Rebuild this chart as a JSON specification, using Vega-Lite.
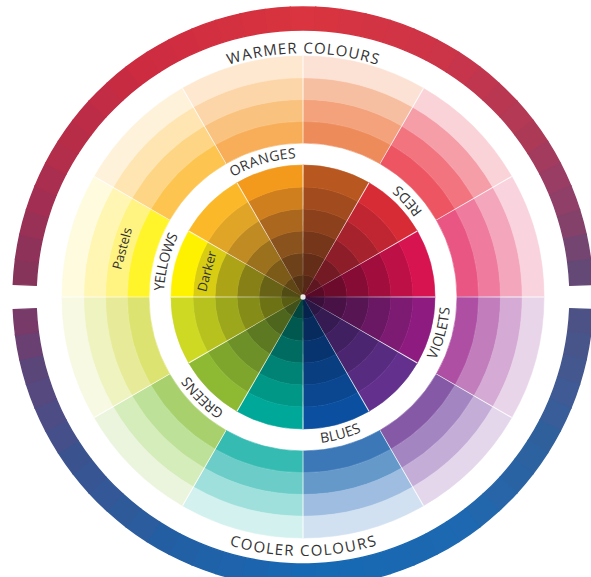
{
"$schema":"https://vega.github.io/schema/vega-lite/v6.json",
"width":576,"height":560,
"autosize":"none",
"padding":{"left":15,"top":17,"right":0,"bottom":0},
"background":"white",
"config":{"view":{"stroke":null}},
"datasets":{
"ring":[
{"a0":-87.5,"a1":-82.5},{"a0":-82.5,"a1":-77.5},{"a0":-77.5,"a1":-72.5},{"a0":-72.5,"a1":-67.5},{"a0":-67.5,"a1":-62.5},{"a0":-62.5,"a1":-57.5},{"a0":-57.5,"a1":-52.5},{"a0":-52.5,"a1":-47.5},{"a0":-47.5,"a1":-42.5},{"a0":-42.5,"a1":-37.5},{"a0":-37.5,"a1":-32.5},{"a0":-32.5,"a1":-27.5},{"a0":-27.5,"a1":-22.5},{"a0":-22.5,"a1":-17.5},{"a0":-17.5,"a1":-12.5},{"a0":-12.5,"a1":-7.5},{"a0":-7.5,"a1":-2.5},{"a0":-2.5,"a1":2.5},{"a0":2.5,"a1":7.5},{"a0":7.5,"a1":12.5},{"a0":12.5,"a1":17.5},{"a0":17.5,"a1":22.5},{"a0":22.5,"a1":27.5},{"a0":27.5,"a1":32.5},{"a0":32.5,"a1":37.5},{"a0":37.5,"a1":42.5},{"a0":42.5,"a1":47.5},{"a0":47.5,"a1":52.5},{"a0":52.5,"a1":57.5},{"a0":57.5,"a1":62.5},{"a0":62.5,"a1":67.5},{"a0":67.5,"a1":72.5},{"a0":72.5,"a1":77.5},{"a0":77.5,"a1":82.5},{"a0":82.5,"a1":87.5},
{"a0":92.5,"a1":97.5},{"a0":97.5,"a1":102.5},{"a0":102.5,"a1":107.5},{"a0":107.5,"a1":112.5},{"a0":112.5,"a1":117.5},{"a0":117.5,"a1":122.5},{"a0":122.5,"a1":127.5},{"a0":127.5,"a1":132.5},{"a0":132.5,"a1":137.5},{"a0":137.5,"a1":142.5},{"a0":142.5,"a1":147.5},{"a0":147.5,"a1":152.5},{"a0":152.5,"a1":157.5},{"a0":157.5,"a1":162.5},{"a0":162.5,"a1":167.5},{"a0":167.5,"a1":172.5},{"a0":172.5,"a1":177.5},{"a0":177.5,"a1":182.5},{"a0":182.5,"a1":187.5},{"a0":187.5,"a1":192.5},{"a0":192.5,"a1":197.5},{"a0":197.5,"a1":202.5},{"a0":202.5,"a1":207.5},{"a0":207.5,"a1":212.5},{"a0":212.5,"a1":217.5},{"a0":217.5,"a1":222.5},{"a0":222.5,"a1":227.5},{"a0":227.5,"a1":232.5},{"a0":232.5,"a1":237.5},{"a0":237.5,"a1":242.5},{"a0":242.5,"a1":247.5},{"a0":247.5,"a1":252.5},{"a0":252.5,"a1":257.5},{"a0":257.5,"a1":262.5},{"a0":262.5,"a1":267.5}
],
"cells":[
{"a0":0,"a1":30,"r0":0,"r1":1,"k":"0-0"},{"a0":0,"a1":30,"r0":1,"r1":2,"k":"0-1"},{"a0":0,"a1":30,"r0":2,"r1":3,"k":"0-2"},{"a0":0,"a1":30,"r0":3,"r1":4,"k":"0-3"},{"a0":0,"a1":30,"r0":4,"r1":5,"k":"0-4"},{"a0":0,"a1":30,"r0":5,"r1":6,"k":"0-5"},{"a0":0,"a1":30,"r0":7,"r1":8,"k":"0-7"},{"a0":0,"a1":30,"r0":8,"r1":9,"k":"0-8"},{"a0":0,"a1":30,"r0":9,"r1":10,"k":"0-9"},{"a0":0,"a1":30,"r0":10,"r1":11,"k":"0-10"},
{"a0":30,"a1":60,"r0":0,"r1":1,"k":"1-0"},{"a0":30,"a1":60,"r0":1,"r1":2,"k":"1-1"},{"a0":30,"a1":60,"r0":2,"r1":3,"k":"1-2"},{"a0":30,"a1":60,"r0":3,"r1":4,"k":"1-3"},{"a0":30,"a1":60,"r0":4,"r1":5,"k":"1-4"},{"a0":30,"a1":60,"r0":5,"r1":6,"k":"1-5"},{"a0":30,"a1":60,"r0":7,"r1":8,"k":"1-7"},{"a0":30,"a1":60,"r0":8,"r1":9,"k":"1-8"},{"a0":30,"a1":60,"r0":9,"r1":10,"k":"1-9"},{"a0":30,"a1":60,"r0":10,"r1":11,"k":"1-10"},
{"a0":60,"a1":90,"r0":0,"r1":1,"k":"2-0"},{"a0":60,"a1":90,"r0":1,"r1":2,"k":"2-1"},{"a0":60,"a1":90,"r0":2,"r1":3,"k":"2-2"},{"a0":60,"a1":90,"r0":3,"r1":4,"k":"2-3"},{"a0":60,"a1":90,"r0":4,"r1":5,"k":"2-4"},{"a0":60,"a1":90,"r0":5,"r1":6,"k":"2-5"},{"a0":60,"a1":90,"r0":7,"r1":8,"k":"2-7"},{"a0":60,"a1":90,"r0":8,"r1":9,"k":"2-8"},{"a0":60,"a1":90,"r0":9,"r1":10,"k":"2-9"},{"a0":60,"a1":90,"r0":10,"r1":11,"k":"2-10"},
{"a0":90,"a1":120,"r0":0,"r1":1,"k":"3-0"},{"a0":90,"a1":120,"r0":1,"r1":2,"k":"3-1"},{"a0":90,"a1":120,"r0":2,"r1":3,"k":"3-2"},{"a0":90,"a1":120,"r0":3,"r1":4,"k":"3-3"},{"a0":90,"a1":120,"r0":4,"r1":5,"k":"3-4"},{"a0":90,"a1":120,"r0":5,"r1":6,"k":"3-5"},{"a0":90,"a1":120,"r0":7,"r1":8,"k":"3-7"},{"a0":90,"a1":120,"r0":8,"r1":9,"k":"3-8"},{"a0":90,"a1":120,"r0":9,"r1":10,"k":"3-9"},{"a0":90,"a1":120,"r0":10,"r1":11,"k":"3-10"},
{"a0":120,"a1":150,"r0":0,"r1":1,"k":"4-0"},{"a0":120,"a1":150,"r0":1,"r1":2,"k":"4-1"},{"a0":120,"a1":150,"r0":2,"r1":3,"k":"4-2"},{"a0":120,"a1":150,"r0":3,"r1":4,"k":"4-3"},{"a0":120,"a1":150,"r0":4,"r1":5,"k":"4-4"},{"a0":120,"a1":150,"r0":5,"r1":6,"k":"4-5"},{"a0":120,"a1":150,"r0":7,"r1":8,"k":"4-7"},{"a0":120,"a1":150,"r0":8,"r1":9,"k":"4-8"},{"a0":120,"a1":150,"r0":9,"r1":10,"k":"4-9"},{"a0":120,"a1":150,"r0":10,"r1":11,"k":"4-10"},
{"a0":150,"a1":180,"r0":0,"r1":1,"k":"5-0"},{"a0":150,"a1":180,"r0":1,"r1":2,"k":"5-1"},{"a0":150,"a1":180,"r0":2,"r1":3,"k":"5-2"},{"a0":150,"a1":180,"r0":3,"r1":4,"k":"5-3"},{"a0":150,"a1":180,"r0":4,"r1":5,"k":"5-4"},{"a0":150,"a1":180,"r0":5,"r1":6,"k":"5-5"},{"a0":150,"a1":180,"r0":7,"r1":8,"k":"5-7"},{"a0":150,"a1":180,"r0":8,"r1":9,"k":"5-8"},{"a0":150,"a1":180,"r0":9,"r1":10,"k":"5-9"},{"a0":150,"a1":180,"r0":10,"r1":11,"k":"5-10"},
{"a0":180,"a1":210,"r0":0,"r1":1,"k":"6-0"},{"a0":180,"a1":210,"r0":1,"r1":2,"k":"6-1"},{"a0":180,"a1":210,"r0":2,"r1":3,"k":"6-2"},{"a0":180,"a1":210,"r0":3,"r1":4,"k":"6-3"},{"a0":180,"a1":210,"r0":4,"r1":5,"k":"6-4"},{"a0":180,"a1":210,"r0":5,"r1":6,"k":"6-5"},{"a0":180,"a1":210,"r0":7,"r1":8,"k":"6-7"},{"a0":180,"a1":210,"r0":8,"r1":9,"k":"6-8"},{"a0":180,"a1":210,"r0":9,"r1":10,"k":"6-9"},{"a0":180,"a1":210,"r0":10,"r1":11,"k":"6-10"},
{"a0":210,"a1":240,"r0":0,"r1":1,"k":"7-0"},{"a0":210,"a1":240,"r0":1,"r1":2,"k":"7-1"},{"a0":210,"a1":240,"r0":2,"r1":3,"k":"7-2"},{"a0":210,"a1":240,"r0":3,"r1":4,"k":"7-3"},{"a0":210,"a1":240,"r0":4,"r1":5,"k":"7-4"},{"a0":210,"a1":240,"r0":5,"r1":6,"k":"7-5"},{"a0":210,"a1":240,"r0":7,"r1":8,"k":"7-7"},{"a0":210,"a1":240,"r0":8,"r1":9,"k":"7-8"},{"a0":210,"a1":240,"r0":9,"r1":10,"k":"7-9"},{"a0":210,"a1":240,"r0":10,"r1":11,"k":"7-10"},
{"a0":240,"a1":270,"r0":0,"r1":1,"k":"8-0"},{"a0":240,"a1":270,"r0":1,"r1":2,"k":"8-1"},{"a0":240,"a1":270,"r0":2,"r1":3,"k":"8-2"},{"a0":240,"a1":270,"r0":3,"r1":4,"k":"8-3"},{"a0":240,"a1":270,"r0":4,"r1":5,"k":"8-4"},{"a0":240,"a1":270,"r0":5,"r1":6,"k":"8-5"},{"a0":240,"a1":270,"r0":7,"r1":8,"k":"8-7"},{"a0":240,"a1":270,"r0":8,"r1":9,"k":"8-8"},{"a0":240,"a1":270,"r0":9,"r1":10,"k":"8-9"},{"a0":240,"a1":270,"r0":10,"r1":11,"k":"8-10"},
{"a0":270,"a1":300,"r0":0,"r1":1,"k":"9-0"},{"a0":270,"a1":300,"r0":1,"r1":2,"k":"9-1"},{"a0":270,"a1":300,"r0":2,"r1":3,"k":"9-2"},{"a0":270,"a1":300,"r0":3,"r1":4,"k":"9-3"},{"a0":270,"a1":300,"r0":4,"r1":5,"k":"9-4"},{"a0":270,"a1":300,"r0":5,"r1":6,"k":"9-5"},{"a0":270,"a1":300,"r0":7,"r1":8,"k":"9-7"},{"a0":270,"a1":300,"r0":8,"r1":9,"k":"9-8"},{"a0":270,"a1":300,"r0":9,"r1":10,"k":"9-9"},{"a0":270,"a1":300,"r0":10,"r1":11,"k":"9-10"},
{"a0":300,"a1":330,"r0":0,"r1":1,"k":"10-0"},{"a0":300,"a1":330,"r0":1,"r1":2,"k":"10-1"},{"a0":300,"a1":330,"r0":2,"r1":3,"k":"10-2"},{"a0":300,"a1":330,"r0":3,"r1":4,"k":"10-3"},{"a0":300,"a1":330,"r0":4,"r1":5,"k":"10-4"},{"a0":300,"a1":330,"r0":5,"r1":6,"k":"10-5"},{"a0":300,"a1":330,"r0":7,"r1":8,"k":"10-7"},{"a0":300,"a1":330,"r0":8,"r1":9,"k":"10-8"},{"a0":300,"a1":330,"r0":9,"r1":10,"k":"10-9"},{"a0":300,"a1":330,"r0":10,"r1":11,"k":"10-10"},
{"a0":330,"a1":360,"r0":0,"r1":1,"k":"11-0"},{"a0":330,"a1":360,"r0":1,"r1":2,"k":"11-1"},{"a0":330,"a1":360,"r0":2,"r1":3,"k":"11-2"},{"a0":330,"a1":360,"r0":3,"r1":4,"k":"11-3"},{"a0":330,"a1":360,"r0":4,"r1":5,"k":"11-4"},{"a0":330,"a1":360,"r0":5,"r1":6,"k":"11-5"},{"a0":330,"a1":360,"r0":7,"r1":8,"k":"11-7"},{"a0":330,"a1":360,"r0":8,"r1":9,"k":"11-8"},{"a0":330,"a1":360,"r0":9,"r1":10,"k":"11-9"},{"a0":330,"a1":360,"r0":10,"r1":11,"k":"11-10"}
],
"seps":[
{"a0":-0.22,"a1":0.22,"r0":0,"r1":6},{"a0":29.78,"a1":30.22,"r0":0,"r1":6},{"a0":59.78,"a1":60.22,"r0":0,"r1":6},{"a0":89.78,"a1":90.22,"r0":0,"r1":6},{"a0":119.78,"a1":120.22,"r0":0,"r1":6},{"a0":149.78,"a1":150.22,"r0":0,"r1":6},{"a0":179.78,"a1":180.22,"r0":0,"r1":6},{"a0":209.78,"a1":210.22,"r0":0,"r1":6},{"a0":239.78,"a1":240.22,"r0":0,"r1":6},{"a0":269.78,"a1":270.22,"r0":0,"r1":6},{"a0":299.78,"a1":300.22,"r0":0,"r1":6},{"a0":329.78,"a1":330.22,"r0":0,"r1":6},
{"a0":-0.13,"a1":0.13,"r0":7,"r1":11},{"a0":29.87,"a1":30.13,"r0":7,"r1":11},{"a0":59.87,"a1":60.13,"r0":7,"r1":11},{"a0":89.87,"a1":90.13,"r0":7,"r1":11},{"a0":119.87,"a1":120.13,"r0":7,"r1":11},{"a0":149.87,"a1":150.13,"r0":7,"r1":11},{"a0":179.87,"a1":180.13,"r0":7,"r1":11},{"a0":209.87,"a1":210.13,"r0":7,"r1":11},{"a0":239.87,"a1":240.13,"r0":7,"r1":11},{"a0":269.87,"a1":270.13,"r0":7,"r1":11},{"a0":299.87,"a1":300.13,"r0":7,"r1":11},{"a0":329.87,"a1":330.13,"r0":7,"r1":11},
{"a0":0,"a1":360,"r0":0,"r1":0.12}
],
"txt":[
{"ch":"W","a":-16.15,"r":11.3,"g":"big","d":"cw"},{"ch":"A","a":-13.1,"r":11.3,"g":"big","d":"cw"},{"ch":"R","a":-10.56,"r":11.3,"g":"big","d":"cw"},{"ch":"M","a":-7.63,"r":11.3,"g":"big","d":"cw"},{"ch":"E","a":-4.86,"r":11.3,"g":"big","d":"cw"},{"ch":"R","a":-2.56,"r":11.3,"g":"big","d":"cw"},{"ch":"C","a":1.16,"r":11.3,"g":"big","d":"cw"},{"ch":"O","a":3.9,"r":11.3,"g":"big","d":"cw"},{"ch":"L","a":6.4,"r":11.3,"g":"big","d":"cw"},{"ch":"O","a":8.9,"r":11.3,"g":"big","d":"cw"},{"ch":"U","a":11.8,"r":11.3,"g":"big","d":"cw"},{"ch":"R","a":14.45,"r":11.3,"g":"big","d":"cw"},{"ch":"S","a":16.8,"r":11.3,"g":"big","d":"cw"},
{"ch":"C","a":195.51,"r":11.5,"g":"big","d":"ccw"},{"ch":"O","a":192.83,"r":11.5,"g":"big","d":"ccw"},{"ch":"O","a":189.91,"r":11.5,"g":"big","d":"ccw"},{"ch":"L","a":187.47,"r":11.5,"g":"big","d":"ccw"},{"ch":"E","a":185.45,"r":11.5,"g":"big","d":"ccw"},{"ch":"R","a":183.21,"r":11.5,"g":"big","d":"ccw"},{"ch":"C","a":179.62,"r":11.5,"g":"big","d":"ccw"},{"ch":"O","a":176.94,"r":11.5,"g":"big","d":"ccw"},{"ch":"L","a":174.5,"r":11.5,"g":"big","d":"ccw"},{"ch":"O","a":172.06,"r":11.5,"g":"big","d":"ccw"},{"ch":"U","a":169.22,"r":11.5,"g":"big","d":"ccw"},{"ch":"R","a":166.63,"r":11.5,"g":"big","d":"ccw"},{"ch":"S","a":164.35,"r":11.5,"g":"big","d":"ccw"},
{"ch":"O","a":-28.14,"r":6.5,"g":"small","d":"cw"},{"ch":"R","a":-24.01,"r":6.5,"g":"small","d":"cw"},{"ch":"A","a":-20.17,"r":6.5,"g":"small","d":"cw"},{"ch":"N","a":-15.96,"r":6.5,"g":"small","d":"cw"},{"ch":"G","a":-11.54,"r":6.5,"g":"small","d":"cw"},{"ch":"E","a":-7.77,"r":6.5,"g":"small","d":"cw"},{"ch":"S","a":-4.48,"r":6.5,"g":"small","d":"cw"},
{"ch":"G","a":216.63,"r":6.5,"g":"small","d":"cw"},{"ch":"R","a":220.39,"r":6.5,"g":"small","d":"cw"},{"ch":"E","a":223.62,"r":6.5,"g":"small","d":"cw"},{"ch":"E","a":226.58,"r":6.5,"g":"small","d":"cw"},{"ch":"N","a":230.19,"r":6.5,"g":"small","d":"cw"},{"ch":"S","a":233.85,"r":6.5,"g":"small","d":"cw"},
{"ch":"Y","a":274.04,"r":6.5,"g":"small","d":"cw"},{"ch":"E","a":277.05,"r":6.5,"g":"small","d":"cw"},{"ch":"L","a":279.87,"r":6.5,"g":"small","d":"cw"},{"ch":"L","a":282.64,"r":6.5,"g":"small","d":"cw"},{"ch":"O","a":286.1,"r":6.5,"g":"small","d":"cw"},{"ch":"W","a":290.65,"r":6.5,"g":"small","d":"cw"},{"ch":"S","a":294.62,"r":6.5,"g":"small","d":"cw"},
{"ch":"R","a":52.75,"r":6.5,"g":"small","d":"ccw"},{"ch":"E","a":49.32,"r":6.5,"g":"small","d":"ccw"},{"ch":"D","a":45.62,"r":6.5,"g":"small","d":"ccw"},{"ch":"S","a":41.85,"r":6.5,"g":"small","d":"ccw"},
{"ch":"V","a":113.78,"r":6.5,"g":"small","d":"ccw"},{"ch":"I","a":111.19,"r":6.5,"g":"small","d":"ccw"},{"ch":"O","a":108.21,"r":6.5,"g":"small","d":"ccw"},{"ch":"L","a":104.66,"r":6.5,"g":"small","d":"ccw"},{"ch":"E","a":101.75,"r":6.5,"g":"small","d":"ccw"},{"ch":"T","a":98.73,"r":6.5,"g":"small","d":"ccw"},{"ch":"S","a":95.64,"r":6.5,"g":"small","d":"ccw"},
{"ch":"B","a":171.25,"r":6.5,"g":"small","d":"ccw"},{"ch":"L","a":168.03,"r":6.5,"g":"small","d":"ccw"},{"ch":"U","a":164.6,"r":6.5,"g":"small","d":"ccw"},{"ch":"E","a":161.11,"r":6.5,"g":"small","d":"ccw"},{"ch":"S","a":158.09,"r":6.5,"g":"small","d":"ccw"},
{"ch":"Pastels","a":285,"r":8.5,"g":"tiny","d":"cw"},{"ch":"Darker","a":285,"r":4.5,"g":"tiny","d":"cw"}
]
},
"layer":[
{"data":{"name":"ring"},
 "mark":{"type":"arc","strokeWidth":1.4},
 "encoding":{
  "theta":{"field":"a0","type":"quantitative","stack":null,"scale":{"type":"linear","domain":[0,360],"range":[0,6.283185307179586],"nice":false}},
  "theta2":{"field":"a1"},
  "radius":{"datum":12,"type":"quantitative","scale":{"type":"linear","domain":[0,6,7,11,12,13],"range":[0,132,154,241,267,290],"nice":false}},
  "radius2":{"datum":13},
  "color":{"field":"a0","type":"quantitative","legend":null,"scale":{"type":"linear","domain":[-87.5,-62.5,-37.5,-2.5,27.5,52.5,72.5,82.5,92.5,117.5,142.5,177.5,207.5,232.5,252.5,262.5],"range":["#86345a","#b22e4a","#cc2b40","#d9343f","#cc3447","#ac3a57","#84416a","#644876","#4c5286","#30609c","#1d68b0","#1569b4","#245ea2","#3a538f","#5a4679","#773a69"]}},
  "stroke":{"field":"a0","type":"quantitative","legend":null,"scale":{"type":"linear","domain":[-87.5,-62.5,-37.5,-2.5,27.5,52.5,72.5,82.5,92.5,117.5,142.5,177.5,207.5,232.5,252.5,262.5],"range":["#86345a","#b22e4a","#cc2b40","#d9343f","#cc3447","#ac3a57","#84416a","#644876","#4c5286","#30609c","#1d68b0","#1569b4","#245ea2","#3a538f","#5a4679","#773a69"]}}
 }},
{"data":{"name":"cells"},
 "mark":{"type":"arc","strokeWidth":0.6},
 "encoding":{
  "theta":{"field":"a0","type":"quantitative","stack":null,"scale":{"type":"linear","domain":[0,360],"range":[0,6.283185307179586],"nice":false}},
  "theta2":{"field":"a1"},
  "radius":{"field":"r0","type":"quantitative","scale":{"type":"linear","domain":[0,6,7,11,12,13],"range":[0,132,154,241,267,290],"nice":false}},
  "radius2":{"field":"r1"},
  "color":{"field":"k","type":"nominal","legend":null,"scale":{
   "domain":["0-0","0-1","0-2","0-3","0-4","0-5","0-7","0-8","0-9","0-10","1-0","1-1","1-2","1-3","1-4","1-5","1-7","1-8","1-9","1-10","2-0","2-1","2-2","2-3","2-4","2-5","2-7","2-8","2-9","2-10","3-0","3-1","3-2","3-3","3-4","3-5","3-7","3-8","3-9","3-10","4-0","4-1","4-2","4-3","4-4","4-5","4-7","4-8","4-9","4-10","5-0","5-1","5-2","5-3","5-4","5-5","5-7","5-8","5-9","5-10","6-0","6-1","6-2","6-3","6-4","6-5","6-7","6-8","6-9","6-10","7-0","7-1","7-2","7-3","7-4","7-5","7-7","7-8","7-9","7-10","8-0","8-1","8-2","8-3","8-4","8-5","8-7","8-8","8-9","8-10","9-0","9-1","9-2","9-3","9-4","9-5","9-7","9-8","9-9","9-10","10-0","10-1","10-2","10-3","10-4","10-5","10-7","10-8","10-9","10-10","11-0","11-1","11-2","11-3","11-4","11-5","11-7","11-8","11-9","11-10"],
   "range":["#552716","#632d18","#76361a","#8c401c","#a24b1e","#b8571f","#ee8b5a","#f3a27c","#f7bfa2","#fce2d5",
   "#5e1620","#741a24","#8d1e29","#a6222d","#c02631","#d72b35","#ed5562","#f1747f","#f59ea7","#fad3d8",
   "#580a27","#6d0b2d","#860c35","#a10e3d","#bd1046","#d71350","#ea5683","#ef7c9e","#f4a6bc","#f9d3dd",
   "#3a0f3a","#481246","#581554","#6a1863","#7d1a72","#8e1c80","#ae4fa4","#c17dbc","#d5aad4","#e9d5ea",
   "#2b1644","#351b51","#402060","#4b256f","#572b7f","#63308d","#8659a7","#a385c1","#c4aed8","#e4d7ec",
   "#05234c","#062b5c","#07346e","#093e80","#0a4790","#0b50a0","#3c78b8","#6599ca","#9ebde0","#d1e1f1",
   "#034640","#00584f","#006c61","#008274","#009787","#00a899","#35bbb2","#6ccdc8","#a0e0dc","#d3f1ef",
   "#405219","#4e651e","#5d7a23","#6d9028","#7ea62d","#8dba32","#a8d06c","#bde198","#d5ecbb","#ebf5dd",
   "#585d13","#6d7315","#858d18","#9da71b","#b7c21f","#cdd922","#dde370","#e7eb99","#eff3c0","#f7f9e3",
   "#504c13","#676215","#878017","#aca416","#d8cd12","#fff200","#fff52a","#fff382","#fff6b4","#fefbdf",
   "#604614","#7c5a18","#9c711d","#bf8b22","#e0a426","#fbb829","#fdc54f","#fdd585","#fee5b2","#fff2db",
   "#553415","#6d4119","#8a521c","#ab671e","#cf7f1d","#f39a1c","#f8ae58","#fac27f","#fcd6a8","#fee8cf"]}},
  "stroke":{"field":"k","type":"nominal","legend":null,"scale":{
   "domain":["0-0","0-1","0-2","0-3","0-4","0-5","0-7","0-8","0-9","0-10","1-0","1-1","1-2","1-3","1-4","1-5","1-7","1-8","1-9","1-10","2-0","2-1","2-2","2-3","2-4","2-5","2-7","2-8","2-9","2-10","3-0","3-1","3-2","3-3","3-4","3-5","3-7","3-8","3-9","3-10","4-0","4-1","4-2","4-3","4-4","4-5","4-7","4-8","4-9","4-10","5-0","5-1","5-2","5-3","5-4","5-5","5-7","5-8","5-9","5-10","6-0","6-1","6-2","6-3","6-4","6-5","6-7","6-8","6-9","6-10","7-0","7-1","7-2","7-3","7-4","7-5","7-7","7-8","7-9","7-10","8-0","8-1","8-2","8-3","8-4","8-5","8-7","8-8","8-9","8-10","9-0","9-1","9-2","9-3","9-4","9-5","9-7","9-8","9-9","9-10","10-0","10-1","10-2","10-3","10-4","10-5","10-7","10-8","10-9","10-10","11-0","11-1","11-2","11-3","11-4","11-5","11-7","11-8","11-9","11-10"],
   "range":["#552716","#632d18","#76361a","#8c401c","#a24b1e","#b8571f","#ee8b5a","#f3a27c","#f7bfa2","#fce2d5",
   "#5e1620","#741a24","#8d1e29","#a6222d","#c02631","#d72b35","#ed5562","#f1747f","#f59ea7","#fad3d8",
   "#580a27","#6d0b2d","#860c35","#a10e3d","#bd1046","#d71350","#ea5683","#ef7c9e","#f4a6bc","#f9d3dd",
   "#3a0f3a","#481246","#581554","#6a1863","#7d1a72","#8e1c80","#ae4fa4","#c17dbc","#d5aad4","#e9d5ea",
   "#2b1644","#351b51","#402060","#4b256f","#572b7f","#63308d","#8659a7","#a385c1","#c4aed8","#e4d7ec",
   "#05234c","#062b5c","#07346e","#093e80","#0a4790","#0b50a0","#3c78b8","#6599ca","#9ebde0","#d1e1f1",
   "#034640","#00584f","#006c61","#008274","#009787","#00a899","#35bbb2","#6ccdc8","#a0e0dc","#d3f1ef",
   "#405219","#4e651e","#5d7a23","#6d9028","#7ea62d","#8dba32","#a8d06c","#bde198","#d5ecbb","#ebf5dd",
   "#585d13","#6d7315","#858d18","#9da71b","#b7c21f","#cdd922","#dde370","#e7eb99","#eff3c0","#f7f9e3",
   "#504c13","#676215","#878017","#aca416","#d8cd12","#fff200","#fff52a","#fff382","#fff6b4","#fefbdf",
   "#604614","#7c5a18","#9c711d","#bf8b22","#e0a426","#fbb829","#fdc54f","#fdd585","#fee5b2","#fff2db",
   "#553415","#6d4119","#8a521c","#ab671e","#cf7f1d","#f39a1c","#f8ae58","#fac27f","#fcd6a8","#fee8cf"]}}
 }},
{"data":{"name":"seps"},
 "mark":{"type":"arc","color":"#ffffff","opacity":0.9},
 "encoding":{
  "theta":{"field":"a0","type":"quantitative","stack":null,"scale":{"type":"linear","domain":[0,360],"range":[0,6.283185307179586],"nice":false}},
  "theta2":{"field":"a1"},
  "radius":{"field":"r0","type":"quantitative","scale":{"type":"linear","domain":[0,6,7,11,12,13],"range":[0,132,154,241,267,290],"nice":false}},
  "radius2":{"field":"r1"}
 }},
{"data":{"name":"txt"},
 "transform":[{"filter":"datum.d == 'cw'"}],
 "mark":{"type":"text","font":"Open Sans","color":"#333333","align":"center","baseline":"middle"},
 "encoding":{
  "theta":{"field":"a","type":"quantitative","stack":null,"scale":{"type":"linear","domain":[0,360],"range":[0,6.283185307179586],"nice":false}},
  "radius":{"field":"r","type":"quantitative","scale":{"type":"linear","domain":[0,6,7,11,12,13],"range":[0,132,154,241,267,290],"nice":false}},
  "text":{"field":"ch"},
  "angle":{"field":"a","type":"quantitative","scale":{"type":"linear","domain":[0,360],"range":[0,360],"nice":false}},
  "size":{"field":"g","type":"nominal","legend":null,"scale":{"domain":["big","small","tiny"],"range":[15,13,10]}}
 }},
{"data":{"name":"txt"},
 "transform":[{"filter":"datum.d == 'ccw'"}],
 "mark":{"type":"text","font":"Open Sans","color":"#333333","align":"center","baseline":"middle"},
 "encoding":{
  "theta":{"field":"a","type":"quantitative","stack":null,"scale":{"type":"linear","domain":[0,360],"range":[0,6.283185307179586],"nice":false}},
  "radius":{"field":"r","type":"quantitative","scale":{"type":"linear","domain":[0,6,7,11,12,13],"range":[0,132,154,241,267,290],"nice":false}},
  "text":{"field":"ch"},
  "angle":{"field":"a","type":"quantitative","scale":{"type":"linear","domain":[0,360],"range":[-180,180],"nice":false}},
  "size":{"field":"g","type":"nominal","legend":null,"scale":{"domain":["big","small","tiny"],"range":[15,13,10]}}
 }}
],
"resolve":{"scale":{"color":"independent","stroke":"independent","angle":"independent"}}
}
